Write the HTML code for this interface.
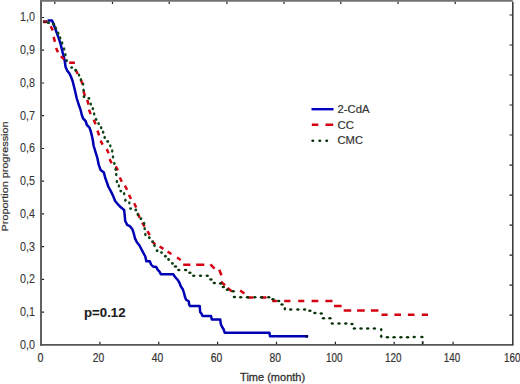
<!DOCTYPE html>
<html><head><meta charset="utf-8"><style>
html,body{margin:0;padding:0;background:#fff;}
body{width:520px;height:384px;position:relative;overflow:hidden;}
svg{position:absolute;left:0;top:0;font-family:"Liberation Sans",sans-serif;}
text{fill:#333333;stroke:#333333;stroke-width:0.2px;}
.b{stroke-width:0.32px;}
.t{stroke-width:0.08px;}
.p{fill:#1c1c1c;stroke:#1c1c1c;stroke-width:0.1px;}
</style></head><body>
<svg width="520" height="384" viewBox="0 0 520 384">
<line x1="41.0" y1="0" x2="41.0" y2="345.75" stroke="#5a5a5a" stroke-width="1.9"/>
<line x1="40.1" y1="0.9" x2="512.8" y2="0.9" stroke="#727272" stroke-width="1.9"/>
<line x1="40.1" y1="344.85" x2="513.55" y2="344.85" stroke="#555" stroke-width="1.9"/>
<line x1="512.8" y1="1.8" x2="512.8" y2="344.85" stroke="#333" stroke-width="1.5"/>
<path d="M41.9,312.2h2.2 M41.9,279.4h2.2 M41.9,246.7h2.2 M41.9,213.9h2.2 M41.9,181.2h2.2 M41.9,148.5h2.2 M41.9,115.7h2.2 M41.9,83.0h2.2 M41.9,50.2h2.2 M41.9,17.5h2.2 M99.9,344.0v-2.2 M158.8,344.0v-2.2 M217.6,344.0v-2.2 M276.5,344.0v-2.2 M335.4,344.0v-2.2 M394.2,344.0v-2.2 M453.1,344.0v-2.2 M54.8,1.8v2.2 M112.5,1.8v2.2 M169.2,1.8v2.2 M226.9,1.8v2.2 M284.0,1.8v2.2 M340.8,1.8v2.2 M398.0,1.8v2.2 M455.2,1.8v2.2 M512.0,15.0h-2.5 M512.0,45.0h-2.5 M512.0,75.0h-2.5 M512.0,105.0h-2.5 M512.0,135.0h-2.5 M512.0,165.1h-2.5 M512.0,195.1h-2.5 M512.0,225.1h-2.5 M512.0,255.1h-2.5 M512.0,285.1h-2.5 M512.0,315.1h-2.5" stroke="#222" stroke-width="1.2" fill="none"/>
<polyline points="47.6,20.5 52.0,20.5 53.0,22.8 55.0,28.0 56.9,33.2 58.8,38.4 60.4,43.5 61.6,48.0 62.8,53.0 64.1,58.0 64.9,62.0 65.6,67.0 67.3,70.8 69.4,73.4 70.9,76.5 72.6,81.0 73.9,86.2 75.2,91.5 76.5,97.5 78.5,104.0 80.4,109.3 81.7,114.5 83.0,118.4 85.6,121.0 86.9,125.0 89.5,127.6 90.8,131.5 91.8,135.4 92.8,140.0 93.7,146.0 95.4,151.7 97.4,158.2 98.7,164.7 100.6,170.0 103.9,172.6 105.2,177.8 107.1,183.0 108.5,187.0 110.4,190.4 113.0,195.6 115.0,200.8 118.2,204.7 120.8,207.3 124.1,210.0 124.7,215.2 125.2,221.0 127.2,224.8 129.8,226.1 132.4,229.3 133.7,233.2 135.0,238.4 136.9,242.3 139.5,245.5 141.3,249.0 143.3,252.8 145.3,256.5 146.3,261.3 149.8,261.3 151.1,264.5 153.0,266.5 156.3,267.1 157.6,269.7 159.5,271.7 160.8,274.2 173.2,274.2 175.1,277.0 177.7,279.9 179.3,282.5 180.9,286.5 182.9,289.5 184.0,293.0 185.0,297.0 186.1,299.7 188.7,301.3 189.3,305.0 190.2,306.1 199.7,306.1 200.2,312.0 201.5,313.8 202.5,316.1 211.1,316.1 211.7,319.4 220.2,319.4 220.8,324.0 222.1,327.0 223.6,329.3 224.7,332.7 269.4,332.7 270.0,336.3 307.9,336.3" fill="none" stroke="#0000b4" stroke-width="2.5" stroke-linejoin="round"/>
<path d="M42.9,21.7L47.6,21.7" stroke="#7a0f1c" stroke-width="3"/>
<path d="M50.66,26.24L52.74,30.36 M53.7,36.9L54.9,41.9 M56.04,48.06L57.96,52.34 M60.81,56.39L64.19,59.21 M69.2,62.8L74.9,62.8 M75.66,69.94L77.74,74.06 M80.9,79.7L82.5,84.3 M83.47,91.13L84.93,95.87 M87.18,99.92L88.62,104.68 M89.0,109.6L90.6,114.2 M93.81,119.79L95.59,124.21 M97.52,130.68L99.08,135.32 M100.54,140.56L102.66,144.64 M106.69,149.11L108.71,153.29 M109.53,159.17L111.67,163.23 M115.69,166.41L117.91,170.39 M119.8,177.5L121.8,181.7 M124.92,185.68L127.08,189.72 M128.94,194.86L131.06,198.94 M134.21,203.29L136.19,207.51 M137.77,213.33L139.63,217.67 M142.29,222.61L144.51,226.59 M147.48,231.22L149.72,235.18 M152.34,241.36L155.26,244.64 M159.59,246.51L163.41,248.89 M167.6,251.6L171.4,254.0 M177.07,257.43L180.73,259.97 M183.2,264.8L190.4,264.8 M196.2,264.8L204.3,264.8 M210.4,264.4L214.6,268.6 M219.3,269.8L221.4,275.3 M220.9,281.7L225.0,285.2 M227.6,287.9L231.9,291.5 M240.1,290.5L244.4,293.6 M247.4,297.5L253.1,297.5 M260.9,297.5L266.5,297.5 M272.2,300.9L276.9,300.9 M284.2,300.9L290.4,300.9 M298.2,300.9L304.3,300.9 M311.6,300.9L318.3,300.9 M325.4,300.9L332.5,300.9 M334.0,306.1L341.6,306.1 M343.7,310.5L351.2,310.5 M357.1,310.5L364.7,310.5 M370.9,310.5L378.4,310.5 M381.5,314.8L387.6,314.8 M394.4,314.8L401.0,314.8 M407.9,314.8L414.5,314.8 M421.8,314.8L428.0,314.8" fill="none" stroke="#d40012" stroke-width="2.5"/>
<g fill="#083408"><ellipse cx="48.5" cy="22.8" rx="1.65" ry="1.25" fill="#0d4316"/><circle cx="53.7" cy="24.2" r="1.45" fill="#0d4316"/><ellipse cx="55.8" cy="28.2" rx="1.25" ry="1.65" fill="#0d4316"/><ellipse cx="58.2" cy="33.2" rx="1.25" ry="1.65" fill="#0d4316"/><ellipse cx="60.2" cy="37.8" rx="1.25" ry="1.65" fill="#0d4316"/><ellipse cx="62.1" cy="43" rx="1.25" ry="1.65" fill="#0d4316"/><ellipse cx="64.1" cy="48.9" rx="1.25" ry="1.65" fill="#0d4316"/><ellipse cx="65.4" cy="54.7" rx="1.25" ry="1.65" fill="#0d4316"/><ellipse cx="66.7" cy="60.6" rx="1.25" ry="1.65" fill="#0d4316"/><circle cx="71.7" cy="67.6" r="1.45" fill="#0d4316"/><circle cx="75.7" cy="70.2" r="1.45" fill="#0d4316"/><ellipse cx="79.0" cy="75.1" rx="1.25" ry="1.65" fill="#0d4316"/><ellipse cx="80.9" cy="79.7" rx="1.25" ry="1.65" fill="#0d4316"/><ellipse cx="83.1" cy="84.1" rx="1.25" ry="1.65" fill="#0d4316"/><ellipse cx="83.6" cy="90.2" rx="1.25" ry="1.65" fill="#0d4316"/><circle cx="84.0" cy="96.8" r="1.45" fill="#0d4316"/><circle cx="88.9" cy="98.4" r="1.45" fill="#0d4316"/><ellipse cx="90.8" cy="104.1" rx="1.25" ry="1.65" fill="#0d4316"/><ellipse cx="92.8" cy="108.7" rx="1.25" ry="1.65" fill="#0d4316"/><ellipse cx="94.1" cy="113.9" rx="1.25" ry="1.65" fill="#0d4316"/><ellipse cx="96.1" cy="119.3" rx="1.25" ry="1.65" fill="#0d4316"/><ellipse cx="98.6" cy="123.6" rx="1.25" ry="1.65" fill="#0d4316"/><ellipse cx="101.1" cy="127.7" rx="1.25" ry="1.65" fill="#0d4316"/><ellipse cx="103.1" cy="132.2" rx="1.25" ry="1.65" fill="#0d4316"/><ellipse cx="104.7" cy="137.4" rx="1.25" ry="1.65" fill="#0d4316"/><circle cx="107.7" cy="141.5" r="1.45" fill="#0d4316"/><ellipse cx="110.3" cy="145.8" rx="1.25" ry="1.65" fill="#0d4316"/><ellipse cx="112.2" cy="151.0" rx="1.25" ry="1.65" fill="#0d4316"/><ellipse cx="113.0" cy="156.9" rx="1.25" ry="1.65" fill="#0d4316"/><ellipse cx="114.3" cy="163.4" rx="1.25" ry="1.65" fill="#0d4316"/><ellipse cx="115.6" cy="169.3" rx="1.25" ry="1.65" fill="#0d4316"/><ellipse cx="116.25" cy="174.5" rx="1.25" ry="1.65" fill="#0d4316"/><ellipse cx="116.9" cy="181.5" rx="1.25" ry="1.65" fill="#0d4316"/><ellipse cx="118.9" cy="185.9" rx="1.25" ry="1.65" fill="#0d4316"/><circle cx="120.8" cy="191.1" r="1.45" fill="#0d4316"/><ellipse cx="124.1" cy="193.7" rx="1.25" ry="1.65" fill="#0d4316"/><ellipse cx="125.4" cy="200.2" rx="1.25" ry="1.65" fill="#0d4316"/><ellipse cx="129.3" cy="202.8" rx="1.25" ry="1.65" fill="#0d4316"/><circle cx="130.6" cy="208.6" r="1.45" fill="#0d4316"/><circle cx="135.8" cy="210.0" r="1.45" fill="#0d4316"/><ellipse cx="137.8" cy="214.5" rx="1.25" ry="1.65" fill="#0d4316"/><circle cx="140.9" cy="218.7" r="1.45" fill="#0d4316"/><ellipse cx="144.1" cy="223.5" rx="1.25" ry="1.65" fill="#0d4316"/><ellipse cx="144.7" cy="228.7" rx="1.25" ry="1.65" fill="#0d4316"/><ellipse cx="145.4" cy="234.5" rx="1.25" ry="1.65" fill="#0d4316"/><circle cx="149.3" cy="237.8" r="1.45" fill="#0d4316"/><circle cx="152.6" cy="241.7" r="1.45" fill="#0d4316"/><ellipse cx="154.5" cy="245.6" rx="1.25" ry="1.65" fill="#0d4316"/><circle cx="157.1" cy="250.8" r="1.45" fill="#0d4316"/><circle cx="161.5" cy="252.6" r="1.45" fill="#0d4316"/><circle cx="165.4" cy="256.2" r="1.45" fill="#0d4316"/><circle cx="168.6" cy="259.5" r="1.45" fill="#0d4316"/><circle cx="172.4" cy="263.4" r="1.45" fill="#0d4316"/><ellipse cx="175.5" cy="266.5" rx="1.7" ry="1.25"/><ellipse cx="178.8" cy="269.9" rx="1.7" ry="1.25"/><ellipse cx="185.6" cy="269.9" rx="1.7" ry="1.25"/><ellipse cx="189.9" cy="272.8" rx="1.7" ry="1.25"/><ellipse cx="193.75" cy="275.7" rx="1.7" ry="1.25"/><ellipse cx="200.5" cy="275.7" rx="1.7" ry="1.25"/><ellipse cx="207.2" cy="275.7" rx="1.7" ry="1.25"/><ellipse cx="210.9" cy="279.4" rx="1.7" ry="1.25"/><ellipse cx="214.3" cy="283.0" rx="1.7" ry="1.25"/><ellipse cx="220.6" cy="283.4" rx="1.7" ry="1.25"/><ellipse cx="223.3" cy="287.1" rx="1.7" ry="1.25"/><ellipse cx="227.4" cy="289.8" rx="1.7" ry="1.25"/><ellipse cx="233.2" cy="291.3" rx="1.7" ry="1.25"/><ellipse cx="234.4" cy="297.1" rx="1.7" ry="1.25"/><ellipse cx="240.7" cy="297.2" rx="1.7" ry="1.25"/><ellipse cx="247.5" cy="297.2" rx="1.7" ry="1.25"/><ellipse cx="254.8" cy="297.3" rx="1.7" ry="1.25"/><ellipse cx="261.6" cy="297.3" rx="1.7" ry="1.25"/><ellipse cx="268.75" cy="297.3" rx="1.7" ry="1.25"/><ellipse cx="273.0" cy="299.2" rx="1.7" ry="1.25"/><ellipse cx="278.7" cy="301.1" rx="1.7" ry="1.25"/><ellipse cx="282.0" cy="304.5" rx="1.7" ry="1.25"/><ellipse cx="284.9" cy="308.8" rx="1.25" ry="1.7"/><ellipse cx="290.7" cy="309.6" rx="1.7" ry="1.25"/><ellipse cx="297.9" cy="309.6" rx="1.7" ry="1.25"/><ellipse cx="304.6" cy="309.6" rx="1.7" ry="1.25"/><ellipse cx="309.9" cy="310.75" rx="1.7" ry="1.25"/><ellipse cx="314.9" cy="313.1" rx="1.7" ry="1.25"/><ellipse cx="321.25" cy="313.5" rx="1.7" ry="1.25"/><ellipse cx="323.5" cy="318.3" rx="1.7" ry="1.25"/><ellipse cx="329.9" cy="318.3" rx="1.7" ry="1.25"/><ellipse cx="332.3" cy="323.6" rx="1.7" ry="1.25"/><ellipse cx="339.0" cy="323.6" rx="1.7" ry="1.25"/><ellipse cx="345.8" cy="323.6" rx="1.7" ry="1.25"/><ellipse cx="352.0" cy="323.9" rx="1.7" ry="1.25"/><ellipse cx="354.4" cy="328.6" rx="1.7" ry="1.25"/><ellipse cx="361.0" cy="328.5" rx="1.7" ry="1.25"/><ellipse cx="367.7" cy="328.5" rx="1.7" ry="1.25"/><ellipse cx="374.4" cy="328.5" rx="1.7" ry="1.25"/><ellipse cx="381.2" cy="329.6" rx="1.25" ry="1.7"/><ellipse cx="381.2" cy="336.2" rx="1.25" ry="1.7"/><ellipse cx="387.4" cy="337.2" rx="1.7" ry="1.25"/><ellipse cx="394.1" cy="337.2" rx="1.7" ry="1.25"/><ellipse cx="400.9" cy="337.2" rx="1.7" ry="1.25"/><ellipse cx="407.6" cy="337.2" rx="1.7" ry="1.25"/><ellipse cx="414.2" cy="337.1" rx="1.7" ry="1.25"/><ellipse cx="421.9" cy="337.1" rx="1.7" ry="1.25"/></g>
<line x1="422.7" y1="341.2" x2="422.7" y2="344.2" stroke="#1a241a" stroke-width="1.8"/>
<line x1="305.2" y1="336.3" x2="308.2" y2="336.3" stroke="#00005a" stroke-width="2.6"/>
<line x1="311.5" y1="109.2" x2="333.5" y2="109.2" stroke="#0000c0" stroke-width="2.4"/>
<path d="M311.8,124.7H318.3M325.5,124.7H333.2" stroke="#d40012" stroke-width="2.5"/>
<g fill="#062e06"><ellipse cx="312.8" cy="140.8" rx="1.5" ry="1.3"/><ellipse cx="319.8" cy="140.8" rx="1.5" ry="1.3"/><ellipse cx="326.7" cy="140.8" rx="1.5" ry="1.3"/></g>
<text x="35.0" y="348.8" font-size="12" font-weight="normal" text-anchor="end" textLength="15.0" lengthAdjust="spacingAndGlyphs" class="t">0,0</text>
<text x="35.0" y="316.1" font-size="12" font-weight="normal" text-anchor="end" textLength="15.0" lengthAdjust="spacingAndGlyphs" class="t">0,1</text>
<text x="35.0" y="283.3" font-size="12" font-weight="normal" text-anchor="end" textLength="15.0" lengthAdjust="spacingAndGlyphs" class="t">0,2</text>
<text x="35.0" y="250.6" font-size="12" font-weight="normal" text-anchor="end" textLength="15.0" lengthAdjust="spacingAndGlyphs" class="t">0,3</text>
<text x="35.0" y="217.8" font-size="12" font-weight="normal" text-anchor="end" textLength="15.0" lengthAdjust="spacingAndGlyphs" class="t">0,4</text>
<text x="35.0" y="185.1" font-size="12" font-weight="normal" text-anchor="end" textLength="15.0" lengthAdjust="spacingAndGlyphs" class="t">0,5</text>
<text x="35.0" y="152.4" font-size="12" font-weight="normal" text-anchor="end" textLength="15.0" lengthAdjust="spacingAndGlyphs" class="t">0,6</text>
<text x="35.0" y="119.6" font-size="12" font-weight="normal" text-anchor="end" textLength="15.0" lengthAdjust="spacingAndGlyphs" class="t">0,7</text>
<text x="35.0" y="86.9" font-size="12" font-weight="normal" text-anchor="end" textLength="15.0" lengthAdjust="spacingAndGlyphs" class="t">0,8</text>
<text x="35.0" y="54.1" font-size="12" font-weight="normal" text-anchor="end" textLength="15.0" lengthAdjust="spacingAndGlyphs" class="t">0,9</text>
<text x="35.0" y="21.4" font-size="12" font-weight="normal" text-anchor="end" textLength="15.0" lengthAdjust="spacingAndGlyphs" class="t">1,0</text>
<text x="40.4" y="361.5" font-size="12" font-weight="normal" text-anchor="middle" textLength="6.0" lengthAdjust="spacingAndGlyphs">0</text>
<text x="98.6" y="361.5" font-size="12" font-weight="normal" text-anchor="middle" textLength="11.5" lengthAdjust="spacingAndGlyphs">20</text>
<text x="157.5" y="361.5" font-size="12" font-weight="normal" text-anchor="middle" textLength="11.5" lengthAdjust="spacingAndGlyphs">40</text>
<text x="216.4" y="361.5" font-size="12" font-weight="normal" text-anchor="middle" textLength="11.5" lengthAdjust="spacingAndGlyphs">60</text>
<text x="275.2" y="361.5" font-size="12" font-weight="normal" text-anchor="middle" textLength="11.5" lengthAdjust="spacingAndGlyphs">80</text>
<text x="334.3" y="361.5" font-size="12" font-weight="normal" text-anchor="middle" textLength="16.5" lengthAdjust="spacingAndGlyphs">100</text>
<text x="393.2" y="361.5" font-size="12" font-weight="normal" text-anchor="middle" textLength="16.5" lengthAdjust="spacingAndGlyphs">120</text>
<text x="452.1" y="361.5" font-size="12" font-weight="normal" text-anchor="middle" textLength="16.5" lengthAdjust="spacingAndGlyphs">140</text>
<text x="512.3" y="361.5" font-size="12" font-weight="normal" text-anchor="middle" textLength="16.5" lengthAdjust="spacingAndGlyphs">160</text>
<text x="240.1" y="380.8" font-size="11.7" font-weight="normal" text-anchor="start" textLength="65.0" lengthAdjust="spacingAndGlyphs" class="b">Time (month)</text>
<text x="0.0" y="0.0" font-size="11" font-weight="normal" text-anchor="start" textLength="110.0" lengthAdjust="spacingAndGlyphs" transform="translate(8.4,231.4) rotate(-90) scale(1,0.9)">Proportion progression</text>
<text x="337.5" y="113.1" font-size="11.5" font-weight="normal" text-anchor="start" textLength="32.0" lengthAdjust="spacingAndGlyphs">2-CdA</text>
<text x="337.5" y="128.6" font-size="11.5" font-weight="normal" text-anchor="start" textLength="16.5" lengthAdjust="spacingAndGlyphs">CC</text>
<text x="337.5" y="143.8" font-size="11.5" font-weight="normal" text-anchor="start" textLength="25.5" lengthAdjust="spacingAndGlyphs">CMC</text>
<text x="84.0" y="316.5" font-size="12.5" font-weight="bold" text-anchor="start" textLength="41.5" lengthAdjust="spacingAndGlyphs" class="p">p=0.12</text>
</svg>
</body></html>
